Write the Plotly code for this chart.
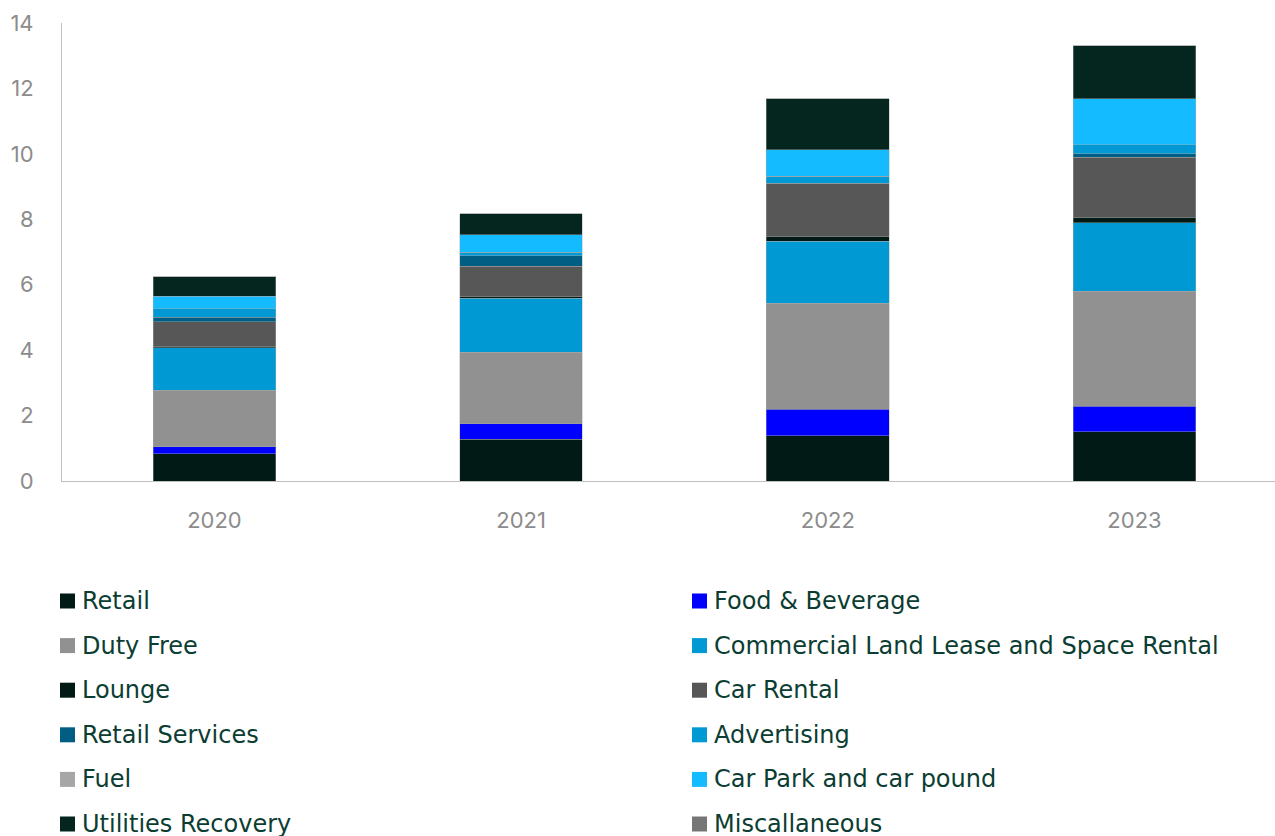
import plotly.graph_objects as go

# Revenue by stream, stacked per year
years = ["2020", "2021", "2022", "2023"]

series_names = [
    "Retail", "Food & Beverage", "Duty Free", "Commercial Land Lease and Space Rental",
    "Lounge", "Car Rental", "Retail Services", "Advertising",
    "Fuel", "Car Park and car pound", "Utilities Recovery", "Miscallaneous",
]

retail = [0.83, 1.28, 1.38, 1.50]
food_beverage = [0.22, 0.47, 0.82, 0.79]
duty_free = [1.72, 2.19, 3.24, 3.51]
commercial_land = [1.31, 1.64, 1.89, 2.10]
lounge = [0.04, 0.05, 0.13, 0.17]
car_rental = [0.75, 0.94, 1.62, 1.82]
retail_services = [0.14, 0.31, 0.02, 0.12]
advertising = [0.26, 0.12, 0.22, 0.27]
fuel = [0.0, 0.0, 0.0, 0.0]
car_park = [0.37, 0.52, 0.81, 1.41]
utilities = [0.61, 0.65, 1.55, 1.61]
miscellaneous = [0.0, 0.0, 0.0, 0.0]

series_values = [
    retail, food_beverage, duty_free, commercial_land, lounge, car_rental,
    retail_services, advertising, fuel, car_park, utilities, miscellaneous,
]

colors = [
    "#021A15", "#0000FF", "#919191", "#0099D4", "#021A15", "#575757",
    "#005E85", "#0099D4", "#A6A6A6", "#14BCFF", "#05261F", "#767676",
]

y_ticks = [0, 2, 4, 6, 8, 10, 12, 14]

fig = go.Figure()
for name, vals, col in zip(series_names, series_values, colors):
    fig.add_trace(go.Bar(
        x=years, y=vals, name=name,
        marker=dict(color=col, line=dict(color="rgba(170,170,170,0.7)", width=0.6)),
        width=0.4, showlegend=False,
    ))

# Plot area geometry in pixels (for the hand-laid legend below)
W, H = 1275, 836
L, R, T, B = 62, 0, 23, 355
plot_w = W - L - R
plot_h = H - T - B

def px_x(px):
    return (px - L) / plot_w

def px_y(py):
    return (H - B - py) / plot_h

# Two-column legend, row-major order
col_x = [60, 692]
row_y0, row_step = 601, 44.6
sq = 15
for i, (name, col) in enumerate(zip(series_names, colors)):
    cx = col_x[i % 2]
    cy = row_y0 + (i // 2) * row_step
    fig.add_shape(
        type="rect", xref="paper", yref="paper",
        x0=px_x(cx), x1=px_x(cx + sq), y0=px_y(cy + sq / 2), y1=px_y(cy - sq / 2),
        fillcolor=col, line=dict(width=0),
    )
    fig.add_annotation(
        xref="paper", yref="paper", x=px_x(cx + sq + 5), y=px_y(cy),
        text=name, showarrow=False, xanchor="left", yanchor="middle",
        font=dict(family="DejaVu Sans", size=24, color="#0B3D32"),
    )

fig.update_layout(
    width=W, height=H,
    margin=dict(l=L, r=R, t=T, b=B, autoexpand=False),
    barmode="stack",
    plot_bgcolor="white", paper_bgcolor="white",
)
fig.update_xaxes(
    type="category", range=[-0.497, 3.458],
    showline=True, linecolor="#BFBFBF", linewidth=1,
    showgrid=False, ticks="", ticklabelstandoff=20,
    tickfont=dict(family="Inter", size=22, color="#8C8C8C"),
)
fig.update_yaxes(
    range=[0, 14], tickvals=y_ticks,
    showline=True, linecolor="#BFBFBF", linewidth=1,
    showgrid=False, zeroline=False, ticks="", ticklabelstandoff=23,
    tickfont=dict(family="Inter", size=22, color="#8C8C8C"),
)

fig.write_html("out.html")
